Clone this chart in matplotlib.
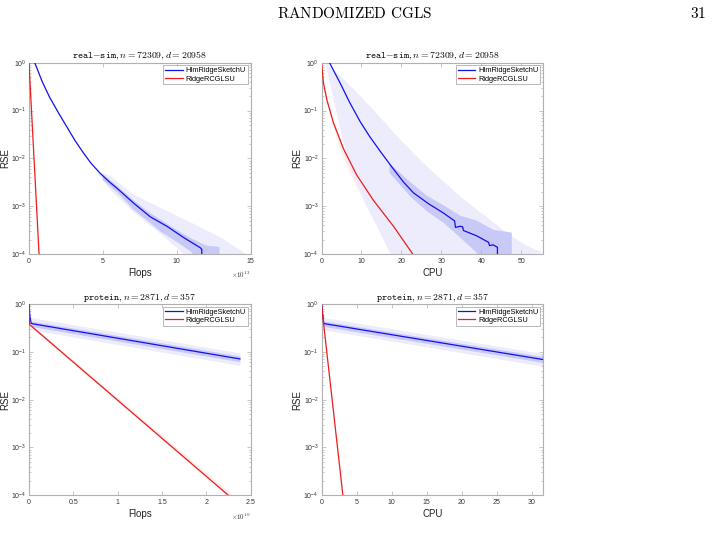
import numpy as np
import matplotlib
matplotlib.use("Agg")
import matplotlib.pyplot as plt
from matplotlib.ticker import ScalarFormatter, LogLocator, NullFormatter, FuncFormatter

plt.rcParams['font.family'] = ['Liberation Sans', 'DejaVu Sans']
plt.rcParams['mathtext.fontset'] = 'cm'

# legend names
names = ["HImRidgeSketchU", "RidgeRCGLSU"]

# ---- real-sim, flops (x in units of 1e13) ----
rs_flops_blue_x = [0.39, 0.9, 1.41, 2.0, 2.54, 3.1, 3.67, 4.2, 4.81, 5.4, 5.94, 7.07, 8.21, 9.34, 10.48, 11.6, 11.7, 11.7]
rs_flops_blue_y = [1.0, 0.398, 0.186, 0.089, 0.0468, 0.024, 0.0132, 7.9e-3, 4.9e-3, 3.3e-3, 2.4e-3, 1.17e-3, 6.0e-4, 3.8e-4, 2.2e-4, 1.35e-4, 1.25e-4, 5e-5]
rs_flops_red_x = [0.0, 0.05, 0.68]
rs_flops_red_y = [1.0, 0.5, 1e-4]
rs_flops_light_up_x = [4.7, 5.5, 7.0, 9.0, 11.0, 13.0, 14.7, 15.0]
rs_flops_light_up_y = [5.2e-3, 4.3e-3, 1.8e-3, 8.9e-4, 4.5e-4, 2.2e-4, 1.0e-4, 5e-5]
rs_flops_light_lo_x = [4.7, 5.5, 7.0, 9.0, 10.5, 10.6]
rs_flops_light_lo_y = [4.6e-3, 2.2e-3, 7.9e-4, 2.5e-4, 1.0e-4, 5e-5]
rs_flops_dark_up_x = [5.0, 6.0, 7.0, 8.0, 9.0, 10.0, 11.0, 12.0, 12.9, 12.9]
rs_flops_dark_up_y = [4.7e-3, 2.6e-3, 1.4e-3, 7.9e-4, 5.0e-4, 3.2e-4, 2.1e-4, 1.5e-4, 1.4e-4, 5e-5]
rs_flops_dark_lo_x = [5.0, 6.0, 7.0, 8.0, 9.0, 10.0, 11.0, 11.5]
rs_flops_dark_lo_y = [3.5e-3, 1.9e-3, 8.9e-4, 5.0e-4, 2.8e-4, 1.8e-4, 1.1e-4, 5e-5]

# ---- real-sim, CPU ----
rs_cpu_blue_x = [2.0, 4.7, 7.0, 9.7, 12.0, 14.7, 17.6, 20.5, 23.0, 26.8, 30.5, 33.3, 33.5, 34.7, 35.3, 35.5, 38.8, 41.8, 42.0, 43.0, 44.0, 44.0]
rs_cpu_blue_y = [1.0, 0.37, 0.15, 0.058, 0.029, 0.014, 6.6e-3, 3.2e-3, 1.9e-3, 1.12e-3, 7.2e-4, 4.9e-4, 3.6e-4, 3.8e-4, 3.7e-4, 3.1e-4, 2.4e-4, 1.75e-4, 1.5e-4, 1.55e-4, 1.38e-4, 5e-5]
rs_cpu_red_x = [0.0, 0.5, 1.35, 3.0, 5.5, 8.8, 13.0, 18.0, 23.2]
rs_cpu_red_y = [1.0, 0.37, 0.166, 0.055, 0.0158, 4.5e-3, 1.32e-3, 3.8e-4, 9e-5]
rs_cpu_pink_up_x = [0.3, 3.0, 5.5, 8.8, 13.0, 18.0, 24.5, 24.6]
rs_cpu_pink_up_y = [0.5, 0.062, 0.0178, 5.0e-3, 1.5e-3, 4.3e-4, 1e-4, 5e-5]
rs_cpu_pink_lo_x = [0.3, 3.0, 5.5, 8.8, 13.0, 17.2, 17.3]
rs_cpu_pink_lo_y = [0.45, 0.045, 0.010, 2.5e-3, 5.6e-4, 1.0e-4, 5e-5]
rs_cpu_light_up_x = [0.9, 5.0, 9.7, 14.0, 18.0, 22.0, 26.3, 30.5, 34.7, 39.0, 43.0, 47.0, 51.3, 55.4]
rs_cpu_light_up_y = [1.0, 0.5, 0.2, 0.083, 0.035, 0.0158, 6.8e-3, 3.3e-3, 1.6e-3, 8.3e-4, 4.6e-4, 2.5e-4, 1.5e-4, 1.05e-4]
rs_cpu_light_lo_x = [0.9, 2.2, 3.8, 5.5, 8.0, 11.3, 14.7, 17.4, 17.5]
rs_cpu_light_lo_y = [1.0, 0.35, 0.089, 0.022, 4.3e-3, 1.0e-3, 2.8e-4, 1.0e-4, 5e-5]
rs_cpu_dark_up_x = [17.0, 22.2, 26.3, 30.5, 34.7, 38.8, 43.0, 47.6, 47.6]
rs_cpu_dark_up_y = [7.9e-3, 3.2e-3, 1.66e-3, 1.05e-3, 6.3e-4, 5.0e-4, 3.2e-4, 2.8e-4, 5e-5]
rs_cpu_dark_lo_x = [17.0, 22.2, 26.3, 30.5, 34.7, 38.8, 39.0]
rs_cpu_dark_lo_y = [5.0e-3, 1.6e-3, 7.9e-4, 4.5e-4, 2.2e-4, 1.07e-4, 5e-5]

# ---- protein, flops (x in units of 1e10) ----
pr_flops_blue_x = [0.0, 0.01, 0.026, 2.38]
pr_flops_blue_y = [1.0, 0.55, 0.39, 0.071]
pr_flops_red_x = [0.0, 0.008, 2.25]
pr_flops_red_y = [1.0, 0.37, 1e-4]
pr_flops_light_x = [0.026, 2.38]
pr_flops_light_up = [0.52, 0.095]
pr_flops_light_lo = [0.29, 0.052]
pr_flops_dark_up = [0.44, 0.082]
pr_flops_dark_lo = [0.34, 0.062]
pr_flops_pink_x = [0.008, 2.28]
pr_flops_pink_up = [0.40, 1.1e-4]
pr_flops_pink_lo = [0.34, 0.85e-4]

# ---- protein, CPU ----
pr_cpu_blue_x = [0.0, 0.33, 31.6]
pr_cpu_blue_y = [1.0, 0.39, 0.069]
pr_cpu_red_x = [0.0, 0.25, 3.05]
pr_cpu_red_y = [1.0, 0.45, 1e-4]
pr_cpu_light_x = [0.33, 31.6]
pr_cpu_light_up = [0.52, 0.092]
pr_cpu_light_lo = [0.29, 0.050]
pr_cpu_dark_up = [0.44, 0.080]
pr_cpu_dark_lo = [0.34, 0.060]

blue = "#1010ee"
red = "#ee1c1c"
light_blue = "#ececfd"
dark_blue = "#c9c9f7"
pink = "#fdeeee"
grey = "#b0b0b0"

W, H = 718, 555
fig = plt.figure(figsize=(W / 100, H / 100), dpi=100)


def band(ax, xu, yu, xl, yl, color):
    xs = np.concatenate([xu, xl[::-1]])
    ys = np.concatenate([yu, yl[::-1]])
    ax.fill(xs, ys, color=color, lw=0, zorder=1)


def setup(ax, title, xlabel, xmax, xticks):
    ax.set_yscale("log")
    ax.set_ylim(1e-4, 1)
    ax.set_xlim(0, xmax)
    ax.set_xticks(xticks)
    ax.yaxis.set_major_locator(LogLocator(base=10, numticks=10))
    ax.yaxis.set_minor_locator(LogLocator(base=10, subs=np.arange(2, 10), numticks=20))
    ax.yaxis.set_minor_formatter(NullFormatter())
    ax.tick_params(which="both", direction="in", top=True, right=True,
                   labelsize=5, labelcolor="#333333", length=3, width=0.5, pad=2)
    ax.tick_params(axis="x", pad=3)
    ax.tick_params(which="minor", length=1.6, color=grey)
    ax.tick_params(which="major", color=grey)
    for s in ax.spines.values():
        s.set_color(grey)
        s.set_linewidth(0.8)
    ax.set_title(title, fontsize=7, pad=3)
    ax.set_xlabel(xlabel, fontsize=7, labelpad=2, color="#222222")
    ax.set_ylabel("RSE", fontsize=7, color="#222222")
    ax.yaxis.set_label_coords(-0.085, 0.5)
    leg = ax.legend(names, loc="upper right", fontsize=5.3, frameon=True, fancybox=False,
                    handlelength=2.4, borderpad=0.25, labelspacing=0.15, handletextpad=0.4,
                    borderaxespad=0.35)
    leg.get_frame().set_edgecolor("#999999")
    leg.get_frame().set_linewidth(0.6)


def sci(ax, power):
    # tick labels in units of 10^power, with the multiplier at the lower right
    ax.xaxis.set_major_formatter(FuncFormatter(lambda v, p: "%g" % v))
    ax.text(1.0, -0.085, r"$\times10^{%d}$" % power, transform=ax.transAxes,
            ha="right", va="top", fontsize=5, color="#333333")


def place(col, row):
    lefts = [29, 321.5]
    tops = [62.7, 304]
    x0 = lefts[col] / W
    w = 221.5 / W
    top = tops[row]
    y0 = 1 - (top + 191.3) / H
    return fig.add_axes([x0, y0, w, 191.3 / H])


def arr(v):
    return np.array(v)


# top-left
ax = place(0, 0)
ax.plot(rs_flops_blue_x, rs_flops_blue_y, color=blue, lw=0.9, zorder=3)
ax.plot(rs_flops_red_x, rs_flops_red_y, color=red, lw=0.9, zorder=3)
band(ax, arr(rs_flops_light_up_x), arr(rs_flops_light_up_y), arr(rs_flops_light_lo_x), arr(rs_flops_light_lo_y), light_blue)
band(ax, arr(rs_flops_dark_up_x), arr(rs_flops_dark_up_y), arr(rs_flops_dark_lo_x), arr(rs_flops_dark_lo_y), dark_blue)
setup(ax, r"$\mathtt{real{-}sim}, n=72309, d=20958$", "Flops", 15, [0, 5, 10, 15])
sci(ax, 13)

# top-right
ax = place(1, 0)
ax.plot(rs_cpu_blue_x, rs_cpu_blue_y, color=blue, lw=0.9, zorder=3)
ax.plot(rs_cpu_red_x, rs_cpu_red_y, color=red, lw=0.9, zorder=3)
band(ax, arr(rs_cpu_pink_up_x), arr(rs_cpu_pink_up_y), arr(rs_cpu_pink_lo_x), arr(rs_cpu_pink_lo_y), pink)
band(ax, arr(rs_cpu_light_up_x), arr(rs_cpu_light_up_y), arr(rs_cpu_light_lo_x), arr(rs_cpu_light_lo_y), light_blue)
band(ax, arr(rs_cpu_dark_up_x), arr(rs_cpu_dark_up_y), arr(rs_cpu_dark_lo_x), arr(rs_cpu_dark_lo_y), dark_blue)
setup(ax, r"$\mathtt{real{-}sim}, n=72309, d=20958$", "CPU", 55.4, [0, 10, 20, 30, 40, 50])

# bottom-left
ax = place(0, 1)
ax.plot(pr_flops_blue_x, pr_flops_blue_y, color=blue, lw=0.9, zorder=3)
ax.plot(pr_flops_red_x, pr_flops_red_y, color=red, lw=0.9, zorder=3)
ax.fill_between(pr_flops_pink_x, pr_flops_pink_lo, pr_flops_pink_up, color=pink, lw=0, zorder=1)
ax.fill_between(pr_flops_light_x, pr_flops_light_lo, pr_flops_light_up, color=light_blue, lw=0, zorder=1)
ax.fill_between(pr_flops_light_x, pr_flops_dark_lo, pr_flops_dark_up, color=dark_blue, lw=0, zorder=2)
setup(ax, r"$\mathtt{protein}, n=2871, d=357$", "Flops", 2.5, [0, 0.5, 1, 1.5, 2, 2.5])
sci(ax, 10)

# bottom-right
ax = place(1, 1)
ax.plot(pr_cpu_blue_x, pr_cpu_blue_y, color=blue, lw=0.9, zorder=3)
ax.plot(pr_cpu_red_x, pr_cpu_red_y, color=red, lw=0.9, zorder=3)
ax.fill_between(pr_cpu_light_x, pr_cpu_light_lo, pr_cpu_light_up, color=light_blue, lw=0, zorder=1)
ax.fill_between(pr_cpu_light_x, pr_cpu_dark_lo, pr_cpu_dark_up, color=dark_blue, lw=0, zorder=2)
setup(ax, r"$\mathtt{protein}, n=2871, d=357$", "CPU", 31.6, [0, 5, 10, 15, 20, 25, 30])

# page header
fig.text(355 / W, 1 - 13 / H, r"$\mathrm{RANDOMIZED\ CGLS}$", ha="center", va="center", fontsize=11)
fig.text(1 - 12 / W, 1 - 13 / H, r"$\mathrm{31}$", ha="right", va="center", fontsize=11)

fig.savefig("out.png", dpi=100)
